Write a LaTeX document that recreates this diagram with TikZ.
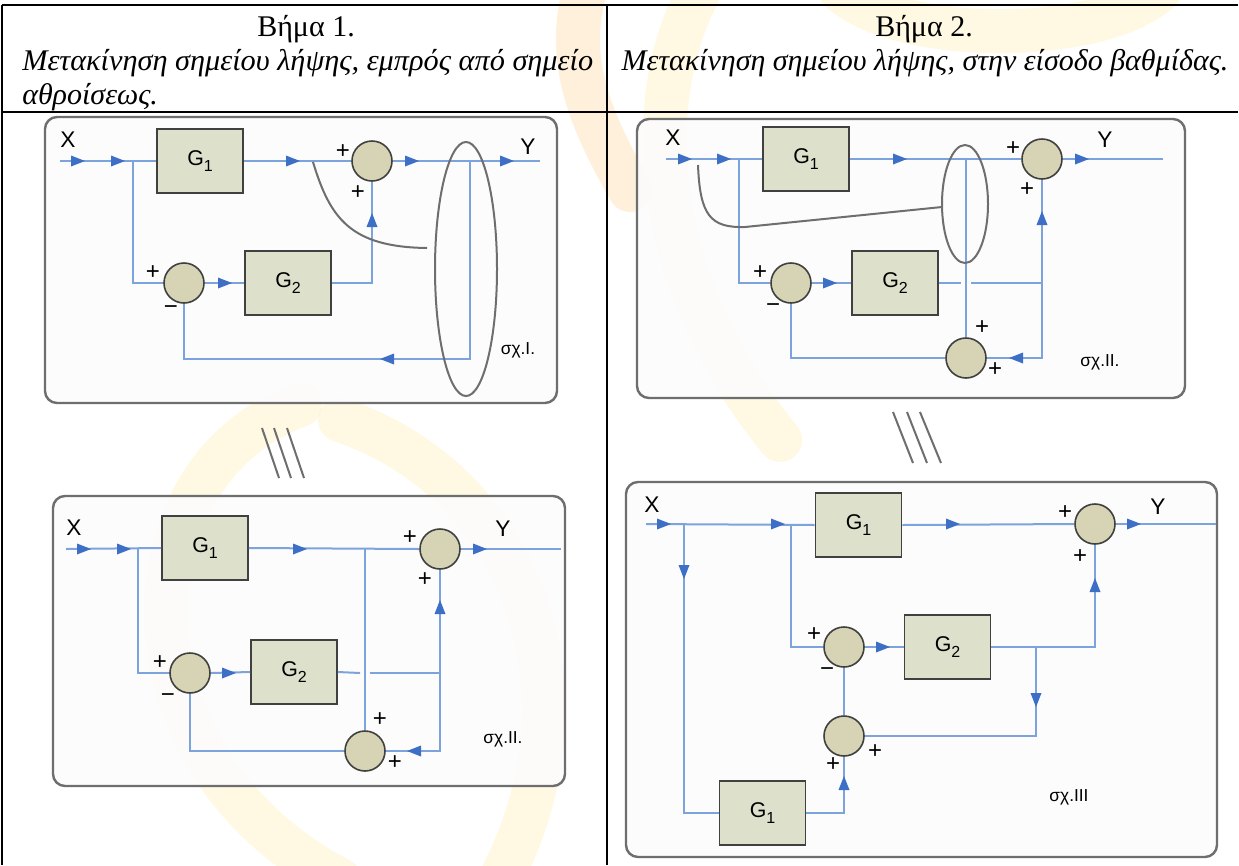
\documentclass[tikz,border=0pt]{standalone}
\usepackage{fontspec}
\setmainfont{Liberation Serif}
\newfontfamily\sansf{Liberation Sans}
\usetikzlibrary{calc}
\definecolor{wirec}{HTML}{7DA3DC}
\definecolor{arrowc}{HTML}{3E6FC7}
\definecolor{boxfill}{HTML}{DDE1CB}
\definecolor{sumfill}{HTML}{D6D4B4}
\definecolor{edgec}{HTML}{404040}
\definecolor{panelgray}{HTML}{6E6E6E}
\definecolor{panelfill}{HTML}{FCFCFC}
\definecolor{wmY}{HTML}{FFE27A}
\definecolor{wmO}{HTML}{FBB54C}
\newcommand\mkR[1]{\fill[arrowc] #1 ++(-7,-5.5) -- ++(14,5.5) -- ++(-14,5.5) -- cycle;}
\newcommand\mkL[1]{\fill[arrowc] #1 ++(7,-5.5) -- ++(-14,5.5) -- ++(14,5.5) -- cycle;}
\newcommand\mkU[1]{\fill[arrowc] #1 ++(-5.5,7) -- ++(5.5,-14) -- ++(5.5,14) -- cycle;}
\newcommand\mkD[1]{\fill[arrowc] #1 ++(-5.5,-7) -- ++(5.5,14) -- ++(5.5,-14) -- cycle;}
\newcommand\Gsub[1]{G\raisebox{-5pt}{\fontsize{12}{12}\selectfont #1}}
\tikzset{
 wire/.style={draw=wirec, line width=1.5pt},
 gbox/.style={draw=edgec, fill=boxfill, line width=1.3pt, minimum width=64.5pt, minimum height=48pt, inner sep=0pt, font=\sansf\fontsize{16}{16}\selectfont},
 sumc/.style={circle, draw=edgec, fill=sumfill, line width=1.2pt, minimum size=30pt, inner sep=0pt},
 panel/.style={draw=panelgray, fill=panelfill, fill opacity=0.9, line width=1.8pt, rounded corners=9pt},
 xy/.style={font=\sansf\fontsize{17}{17}\selectfont, inner sep=0pt},
 pm/.style={font=\sansf\fontsize{18}{18}\selectfont, inner sep=0pt},
 figlbl/.style={font=\sansf\fontsize{13}{13}\selectfont, inner sep=0pt},
 hand/.style={draw=panelgray, line width=1.5pt},
 tline/.style={draw=black, line width=1.6pt},
 hdr/.style={font=\fontsize{22.5}{22.5}\selectfont, inner sep=0pt},
 hdri/.style={font=\fontsize{22.5}{22.5}\selectfont\itshape, inner sep=0pt},
 wmband/.style={line width=33pt, opacity=0.2, line cap=round},
}
\begin{document}
\begin{tikzpicture}[x=0.75pt,y=-0.75pt]
\useasboundingbox (0,0) rectangle (1239,865);
\fill[white] (0,0) rectangle (1239,865);
% ---------- faint watermark ----------
\draw[wmband, draw=wmY] (300,405) .. controls (120,470) and (110,760) .. (340,880);
\draw[wmband, draw=wmY] (340,420) .. controls (520,480) and (600,690) .. (500,880);
\draw[wmband, draw=wmO] (585,-10) .. controls (565,60) and (590,120) .. (630,190);
\draw[wmband, draw=wmY] (700,-10) .. controls (640,100) and (650,280) .. (780,440);
\draw[wmband, draw=wmY] (840,-10) .. controls (900,45) and (1100,45) .. (1160,-10);
% ---------- table ----------
\draw[tline] (2,5) -- (1238,5);
\draw[tline] (2,112) -- (1238,112);
\draw[tline] (2,5) -- (2,865);
\draw[tline] (607,5) -- (607,865);
\node[hdr, anchor=base] (h1) at (306,36) {Βήμα 1.};
\node[hdri, anchor=base west] (h1b) at (22,70) {\scalebox{1.01}[1]{Μετακίνηση σημείου λήψης, εμπρός από σημείο}};
\node[hdri, anchor=base west] (h1c) at (22,104) {αθροίσεως.};
\node[hdr, anchor=base] (h2) at (924,36) {Βήμα 2.};
\node[hdri, anchor=base] (h2b) at (925,70) {Μετακίνηση σημείου λήψης, στην είσοδο βαθμίδας.};

% ================= Panel 1 =================
\draw[panel] (45,117) rectangle (557,403);
\node[gbox] (g1a) at (200,161) {\Gsub{1}};
\node[gbox] (g2a) at (288,283) {\Gsub{2}};
\node[sumc] (s1a) at (372,161) {};
\node[sumc] (s2a) at (184,283) {};
\coordinate (inA) at (60,161);
\coordinate (jA) at (133,161);
\coordinate (tA) at (470,161);
\coordinate (outA) at (540,161);
\coordinate (fbA) at (470,359);
\draw[wire] (inA) -- (g1a.west);
\draw[wire] (g1a.east) -- (s1a.west);
\draw[wire] (s1a.east) -- (outA);
\draw[wire] (jA) |- (s2a.west);
\draw[wire] (s2a.east) -- (g2a.west);
\draw[wire] (g2a.east) -| (s1a.south);
\draw[wire] (tA) -- (fbA) -| (s2a.south);
\mkR{(78,161)} \mkR{(118,161)} \mkR{(293,161)} \mkR{(412,161)} \mkR{(507,161)}
\mkR{(225,283)} \mkU{(372,220)} \mkL{(387,359)}
\node[xy] (xa) at (68,140) {X};
\node[xy] (ya) at (528,147) {Y};
\node[pm] at (343,152) {+};
\node[pm] at (358,193) {+};
\node[pm] at (153,273) {+};
\node[pm] at (171,310) {−};
\draw[hand] (466,269) ellipse [x radius=23.25pt, y radius=95.25pt];
\draw[hand] (313,162) .. controls (330,218) and (350,247) .. (427,248);
\node[figlbl] at (518,350) {σχ.I.};

% hatch marks
\draw[hand] (262,428) -- (279,478);
\draw[hand] (274,428) -- (291,478);
\draw[hand] (287,428) -- (304,478);
\draw[hand] (893,412) -- (913,463);
\draw[hand] (907,412) -- (927,463);
\draw[hand] (920,412) -- (941,463);

% ================= Panel 2 =================
\draw[panel] (637,119) rectangle (1185,398);
\node[gbox] (g1b) at (806,159) {\Gsub{1}};
\node[gbox] (g2b) at (895,283) {\Gsub{2}};
\node[sumc] (s1b) at (1042,159) {};
\node[sumc] (s2b) at (791,283) {};
\node[sumc] (s3b) at (966,358) {};
\coordinate (inB) at (666,159);
\coordinate (jB) at (739,159);
\coordinate (tB) at (966,159);
\coordinate (outB) at (1163,159);
\coordinate (kB) at (1042,283);
\coordinate (kB2) at (1042,358);
\draw[wire] (inB) -- (g1b.west);
\draw[wire] (g1b.east) -- (s1b.west);
\draw[wire] (s1b.east) -- (outB);
\draw[wire] (jB) |- (s2b.west);
\draw[wire] (s2b.east) -- (g2b.west);
\draw[wire] (g2b.east) -- (961,283);
\draw[wire] (971,283) -- (kB) -- (s1b.south);
\draw[wire] (tB) -- (s3b.north);
\draw[wire] (kB) -- (kB2) -- (s3b.east);
\draw[wire] (s3b.west) -| (s2b.south);
\mkR{(685,159)} \mkR{(724,159)} \mkR{(900,159)} \mkR{(1082,159)}
\mkR{(830,283)} \mkU{(1042,218)} \mkL{(1016,358)}
\node[xy] (xb) at (673,138) {X};
\node[xy] (yb) at (1105,140) {Y};
\node[pm] at (1013,149) {+};
\node[pm] at (1027,190) {+};
\node[pm] at (760,273) {+};
\node[pm] at (773,308) {−};
\node[pm] at (982,328) {+};
\node[pm] at (995,370) {+};
\draw[hand] (965,204) ellipse [x radius=17.25pt, y radius=44.25pt];
\draw[hand] (698,165) .. controls (700,215) and (710,228) .. (745,227) -- (942,207);
\node[figlbl] at (1100,362) {σχ.II.};

% ================= Panel 3 =================
\draw[panel] (53,496) rectangle (565,786);
\node[gbox] (g1c) at (205,548) {\Gsub{1}};
\node[gbox] (g2c) at (294,672) {\Gsub{2}};
\node[sumc] (s1c) at (440,549) {};
\node[sumc] (s2c) at (190,673) {};
\node[sumc] (s3c) at (365,751) {};
\coordinate (inC) at (66,549);
\coordinate (jC) at (138,549);
\coordinate (tC) at (365,549);
\coordinate (outC) at (561,549);
\coordinate (kC) at (440,673);
\coordinate (kC2) at (440,751);
\draw[wire] (inC) -- (g1c.west);
\draw[wire] (g1c.east) -- (s1c.west);
\draw[wire] (s1c.east) -- (outC);
\draw[wire] (jC) |- (s2c.west);
\draw[wire] (s2c.east) -- (g2c.west);
\draw[wire] (g2c.east) -- (360,673);
\draw[wire] (370,673) -- (kC) -- (s1c.south);
\draw[wire] (tC) -- (s3c.north);
\draw[wire] (kC) -- (kC2) -- (s3c.east);
\draw[wire] (s3c.west) -| (s2c.south);
\mkR{(84,549)} \mkR{(124,549)} \mkR{(300,549)} \mkR{(480,549)}
\mkR{(229,673)} \mkU{(440,607)} \mkL{(414,751)}
\node[xy] (xc) at (74,528) {X};
\node[xy] (yc) at (503,529) {Y};
\node[pm] at (410,538) {+};
\node[pm] at (425,580) {+};
\node[pm] at (160,663) {+};
\node[pm] at (168,698) {−};
\node[pm] at (380,720) {+};
\node[pm] at (395,763) {+};
\node[figlbl] at (503,739) {σχ.II.};

% ================= Panel 4 =================
\draw[panel] (626,482) rectangle (1217,857);
\node[gbox] (g1d) at (858.5,525) {\Gsub{1}};
\node[gbox] (g2d) at (947.5,647) {\Gsub{2}};
\node[gbox] (g3d) at (762.5,813) {\Gsub{1}};
\node[sumc] (s1d) at (1095,524) {};
\node[sumc] (s2d) at (844,647) {};
\node[sumc] (s3d) at (844,736) {};
\coordinate (inD) at (646,524);
\coordinate (jD1) at (684,524);
\coordinate (jD2) at (791,524);
\coordinate (outD) at (1216,524);
\coordinate (kD) at (1036,647);
\coordinate (kD2) at (1036,736);
\draw[wire] (inD) -- (g1d.west);
\draw[wire] (g1d.east) -- (s1d.west);
\draw[wire] (s1d.east) -- (outD);
\draw[wire] (jD1) |- (g3d.west);
\draw[wire] (g3d.east) -| (s3d.south);
\draw[wire] (jD2) |- (s2d.west);
\draw[wire] (s2d.east) -- (g2d.west);
\draw[wire] (g2d.east) -| (s1d.south);
\draw[wire] (kD) -- (kD2) -- (s3d.east);
\draw[wire] (s3d.north) -- (s2d.south);
\mkR{(664,524)} \mkR{(778,524)} \mkR{(953,524)} \mkR{(1134,524)}
\mkD{(684,572)} \mkU{(844,783)} \mkR{(883,647)} \mkU{(1095,585)} \mkD{(1036,700)}
\node[xy] (xd) at (652,505) {X};
\node[xy] (yd) at (1158,507) {Y};
\node[pm] at (1065,513) {+};
\node[pm] at (1080,557) {+};
\node[pm] at (814,635) {+};
\node[pm] at (827,672) {−};
\node[pm] at (833,765) {+};
\node[pm] at (875,752) {+};
\node[figlbl] at (1069,797) {σχ.III};
\end{tikzpicture}
\end{document}
